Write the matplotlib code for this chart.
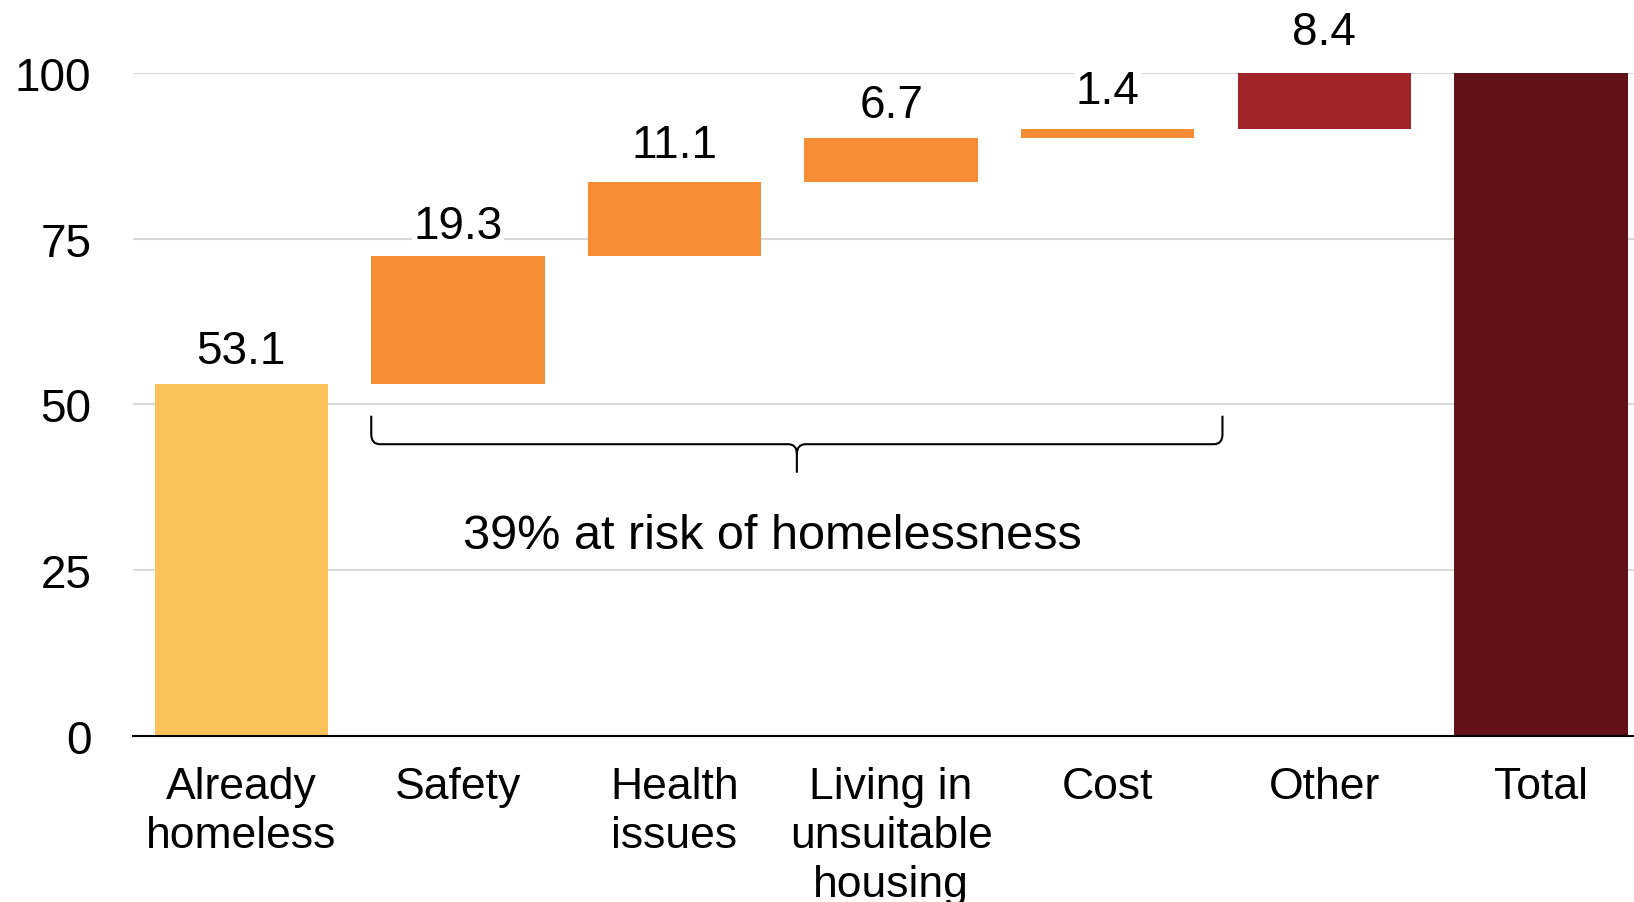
import matplotlib
matplotlib.use("Agg")
import matplotlib.pyplot as pl
from matplotlib.path import Path
from matplotlib.patches import PathPatch
import numpy as np

categories = ["Already\nhomeless", "Safety", "Health\nissues", "Living in\nunsuitable\nhousing",
			"Cost", "Other", "Total"]
steps = [53.1, 19.3, 11.1, 6.7, 1.4, 8.4]
total = 100
colors = ["#FEC25B", "#F68D34", "#F68D34", "#F68D34", "#F68D34", "#A02428", "#621217"]
braceText = "39% at risk of homelessness"

# how far each value label sits above its bar, in points
labelOffsets = [7.5, 6, 11, 8, 11, 13.5]

pl.rcParams["font.family"] = ["Liberation Sans", "DejaVu Sans"]
NUMBER_SIZE = 33
CATEGORY_SIZE = 32
NOTE_SIZE = 35

figure = pl.figure(figsize=(16.34, 9.03), dpi=100)
axes = figure.add_axes([0.0814, 0.184, 0.9186, 0.734])

# waterfall: each step starts where the previous one ended
bottoms = np.concatenate([[0], np.cumsum(steps)[:-1], [0]])
heights = steps + [total]
x = np.arange(len(categories))

axes.bar(x, heights, bottom=bottoms, width=0.8, color=colors, zorder=2)

for i, value in enumerate(steps):
	top = bottoms[i] + heights[i]
	axes.annotate(f"{value:.1f}", (x[i], top), xytext=(0, labelOffsets[i]),
					textcoords="offset points", ha="center", va="bottom",
					fontsize=NUMBER_SIZE, zorder=3,
					bbox=dict(facecolor="white", edgecolor="none", pad=1),
					annotation_clip=False)

# curly brace grouping the at-risk reasons
left, right, mid = 0.6, 4.53, 2.565
top, line, tip = 48.3, 44.0, 39.7
c = 0.04
verts = [(left, top), (left, line + 1.5), (left, line), (left + c, line),
		(mid - c, line), (mid, line), (mid, line - 1.5), (mid, tip),
		(mid, line - 1.5), (mid, line), (mid + c, line),
		(right - c, line), (right, line), (right, line + 1.5), (right, top)]
codes = [Path.MOVETO, Path.LINETO, Path.CURVE3, Path.CURVE3,
		Path.LINETO, Path.CURVE3, Path.CURVE3, Path.LINETO,
		Path.MOVETO, Path.CURVE3, Path.CURVE3,
		Path.LINETO, Path.CURVE3, Path.CURVE3, Path.LINETO]
axes.add_patch(PathPatch(Path(verts, codes), facecolor="none", edgecolor="black",
							linewidth=1.5, zorder=3))
axes.text(2.45, 30.2, braceText, ha="center", va="center", fontsize=NOTE_SIZE)

axes.set_xlim(-0.5, 6.43)
axes.set_ylim(0, 100)
axes.set_yticks([0, 25, 50, 75, 100])
axes.set_xticks(x)
axes.set_xticklabels(categories, linespacing=1.25, fontsize=CATEGORY_SIZE)
axes.tick_params(axis="both", length=0)
axes.tick_params(axis="y", labelsize=NUMBER_SIZE, pad=30)
axes.tick_params(axis="x", pad=22)
axes.yaxis.grid(True, color="#D9D9D9", linewidth=1.5, zorder=0)
axes.set_axisbelow(True)
for side in ["left", "right", "top"]:
	axes.spines[side].set_visible(False)
axes.spines["bottom"].set_linewidth(1.5)
axes.spines["bottom"].set_zorder(4)

figure.savefig("out.png", dpi=100)
pl.close(figure)
